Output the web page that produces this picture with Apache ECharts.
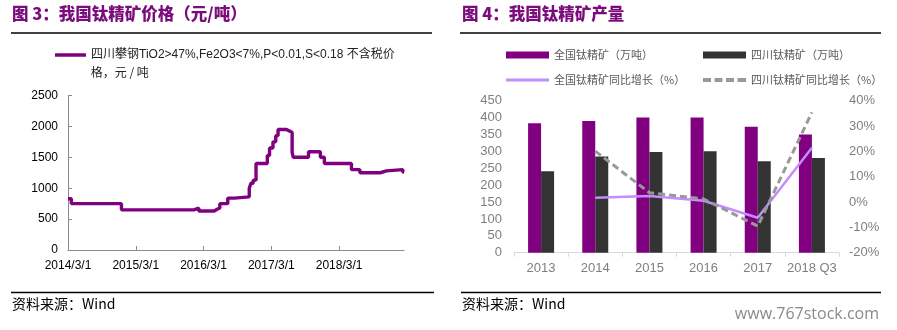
<!DOCTYPE html>
<html>
<head>
<meta charset="utf-8">
<script src="https://cdn.jsdelivr.net/npm/echarts@6/dist/echarts.min.js"></script>
<style>html,body{margin:0;padding:0;background:#fff}#c{width:897px;height:330px}</style>
</head>
<body>
<div id="c"></div>
<script>
// ---- Figure 3: price (step line), [date, yuan/ton] ----
const priceDates = ['2014-03-01','2014-03-19','2014-12-15','2016-01-10','2016-02-06','2016-04-28','2016-05-13','2016-05-28','2016-07-10','2016-08-16','2016-11-04','2016-11-13','2016-11-25','2016-12-10','2017-02-10','2017-02-22','2017-03-10','2017-03-25','2017-04-07','2017-05-22','2017-06-10','2017-06-22','2017-06-28','2017-09-19','2017-11-22','2017-12-13','2018-05-07','2018-06-22','2018-10-10','2018-11-13','2019-02-10','2019-02-16'];
const priceValues = [830,750,650,680,630,660,680,750,840,860,1000,1080,1130,1400,1530,1650,1750,1850,1950,1920,1900,1580,1500,1590,1500,1400,1300,1250,1280,1300,1260,1260];
const priceTickLabels = ['2014/3/1','2015/3/1','2016/3/1','2017/3/1','2018/3/1'];
const priceSeriesName = '四川攀钢TiO2>47%,Fe2O3<7%,P<0.01,S<0.18 不含税价格，元 / 吨';

// ---- Figure 4: output ----
const years = ['2013','2014','2015','2016','2017','2018 Q3'];
const nationalOutput = [383, 390, 400, 400, 373, 350];
const sichuanOutput = [241, 285, 298, 300, 271, 280];
const nationalGrowth = [null, 1.7, 2.4, 0.5, -6.2, 21.4];
const sichuanGrowth = [null, 20.1, 3.7, 1.2, -9.5, 35.4];

const PURPLE = '#800080';
const FONT = "'Liberation Sans','Noto Sans CJK SC',sans-serif";
const CJK = "'Noto Sans CJK SC','Liberation Sans',sans-serif";
const LEFT_ICON = 'path://M0,0h31v3.5h-31z';
const SOLID_ICON = 'path://M0,0h43v3h-43z';
const DASH_ICON = 'path://M0,0h8v4h-8z M11.5,0h8v4h-8z M23,0h8v4h-8z M34.5,0h8.5v4h-8.5z';

function monthOffset(s) {
  const [y, m, d] = s.split('-').map(Number);
  return (y - 2014) * 12 + (m - 3) + (d - 1) / 30.4;
}
const priceData = priceDates.map((d, i) => [monthOffset(d), priceValues[i]]);
const tickVals = priceTickLabels.map((t, i) => i * 12);

const chart = echarts.init(document.getElementById('c'), null, {renderer: 'canvas'});
const option = {
  backgroundColor: '#fff',
  animation: false,
  textStyle: {fontFamily: FONT},
  grid: [
    {left: 68, top: 95.5, width: 336, height: 154.5, containLabel: false},
    {left: 514, top: 100.7, width: 325, height: 152, containLabel: false}
  ],
  legend: [
    {left: 55, top: 49, padding: 0, itemWidth: 31, itemHeight: 3.5, itemGap: 5, icon: LEFT_ICON,
     data: [priceSeriesName], formatter: () => '四川攀钢TiO2>47%,Fe2O3<7%,P<0.01,S<0.18 不含税价',
     textStyle: {fontSize: 12, color: '#222', fontFamily: FONT}},
    {left: 506, top: 49.5, padding: 0, itemWidth: 43, itemHeight: 7, icon: 'rect',
     data: ['全国钛精矿（万吨）'], textStyle: {fontSize: 11, color: '#595959', fontFamily: CJK}},
    {left: 703, top: 49.5, padding: 0, itemWidth: 43, itemHeight: 7, icon: 'rect',
     data: ['四川钛精矿（万吨）'], textStyle: {fontSize: 11, color: '#595959', fontFamily: CJK}},
    {left: 506, top: 74.5, padding: 0, itemWidth: 43, itemHeight: 3, icon: SOLID_ICON,
     data: ['全国钛精矿同比增长（%）'], textStyle: {fontSize: 11, color: '#595959', fontFamily: CJK}},
    {left: 703, top: 74.5, padding: 0, itemWidth: 43, itemHeight: 4, icon: DASH_ICON,
     data: ['四川钛精矿同比增长（%）'], textStyle: {fontSize: 11, color: '#595959', fontFamily: CJK}}
  ],
  xAxis: [
    {type: 'value', gridIndex: 0, min: 0, max: 59.5, interval: 12,
     axisLine: {show: true, lineStyle: {color: '#8c8c8c', width: 1}},
     axisTick: {show: true, inside: true, length: 4, customValues: tickVals, lineStyle: {color: '#8c8c8c'}},
     axisLabel: {customValues: tickVals, formatter: v => priceTickLabels[Math.round(v / 12)] || '',
                 color: '#000', fontSize: 12, margin: 10, fontFamily: FONT},
     splitLine: {show: false}},
    {type: 'category', gridIndex: 1, data: years, boundaryGap: true,
     axisLine: {show: true, lineStyle: {color: '#d9d9d9', width: 1}},
     axisTick: {show: true, length: 4, lineStyle: {color: '#d9d9d9'}},
     axisLabel: {interval: 0, color: '#7f7f7f', fontSize: 13, margin: 9, fontFamily: FONT},
     splitLine: {show: false}}
  ],
  yAxis: [
    {type: 'value', gridIndex: 0, min: 0, max: 2500, interval: 500,
     axisLine: {show: true, lineStyle: {color: '#8c8c8c', width: 1}},
     axisTick: {show: true, inside: true, length: 4, lineStyle: {color: '#8c8c8c'}},
     axisLabel: {color: '#000', fontSize: 12, margin: 10, fontFamily: FONT, formatter: v => String(v)},
     splitLine: {show: false}},
    {type: 'value', gridIndex: 1, min: 0, max: 450, interval: 50,
     axisLine: {show: false}, axisTick: {show: false},
     axisLabel: {color: '#7f7f7f', fontSize: 13, margin: 12, fontFamily: FONT, formatter: v => String(v)},
     splitLine: {show: false}},
    {type: 'value', gridIndex: 1, position: 'right', min: -20, max: 40, interval: 10,
     axisLine: {show: false}, axisTick: {show: false},
     axisLabel: {color: '#7f7f7f', fontSize: 13, margin: 10, formatter: '{value}%', fontFamily: FONT},
     splitLine: {show: false}}
  ],
  series: [
    {name: priceSeriesName, type: 'line', xAxisIndex: 0, yAxisIndex: 0, data: priceData,
     step: 'end', symbol: 'none', lineStyle: {color: PURPLE, width: 3.4}, itemStyle: {color: PURPLE}},
    {name: '全国钛精矿（万吨）', type: 'bar', xAxisIndex: 1, yAxisIndex: 1, data: nationalOutput,
     barWidth: 13, barGap: '0%', itemStyle: {color: PURPLE}},
    {name: '四川钛精矿（万吨）', type: 'bar', xAxisIndex: 1, yAxisIndex: 1, data: sichuanOutput,
     barWidth: 13, barGap: '0%', itemStyle: {color: '#333333'}},
    {name: '全国钛精矿同比增长（%）', type: 'line', xAxisIndex: 1, yAxisIndex: 2, data: nationalGrowth,
     symbol: 'none', z: 5, lineStyle: {color: '#C48CFF', width: 2.5}, itemStyle: {color: '#C48CFF'}},
    {name: '四川钛精矿同比增长（%）', type: 'line', xAxisIndex: 1, yAxisIndex: 2, data: sichuanGrowth,
     symbol: 'none', z: 6, lineStyle: {color: '#999999', width: 3, type: [7, 4]}, itemStyle: {color: '#999999'}}
  ],
  graphic: [
    {type: 'text', left: 12, top: 5, style: {text: '图 3：我国钛精矿价格（元/吨）', fill: '#7B0C7B', font: "900 16.5px 'Noto Sans CJK SC'"}},
    {type: 'text', left: 462, top: 5, style: {text: '图 4：我国钛精矿产量', fill: '#7B0C7B', font: "900 16.5px 'Noto Sans CJK SC'"}},
    {type: 'line', shape: {x1: 11, y1: 33, x2: 432, y2: 33}, style: {stroke: '#000', lineWidth: 1.3}},
    {type: 'line', shape: {x1: 460, y1: 33, x2: 881, y2: 33}, style: {stroke: '#000', lineWidth: 1.3}},
    {type: 'text', x: 90.7, y: 72, style: {text: '格，元 / 吨', fill: '#222', font: "12px 'Noto Sans CJK SC'", textVerticalAlign: 'middle'}},
    {type: 'line', shape: {x1: 11, y1: 292.5, x2: 434, y2: 292.5}, style: {stroke: '#000', lineWidth: 1.3}},
    {type: 'line', shape: {x1: 461, y1: 292.5, x2: 881, y2: 292.5}, style: {stroke: '#000', lineWidth: 1.3}},
    {type: 'text', x: 12, y: 304, style: {text: '资料来源：Wind', fill: '#000', font: "14px 'Noto Sans CJK SC'", textVerticalAlign: 'middle'}},
    {type: 'text', x: 462, y: 304, style: {text: '资料来源：Wind', fill: '#000', font: "14px 'Noto Sans CJK SC'", textVerticalAlign: 'middle'}},
    {type: 'text', x: 879, y: 314, style: {text: 'www.767stock.com', fill: '#8a8a8a', font: "16px 'Open Sans'", textAlign: 'right', textVerticalAlign: 'middle'}}
  ]
};
chart.setOption(option);
</script>
</body>
</html>
